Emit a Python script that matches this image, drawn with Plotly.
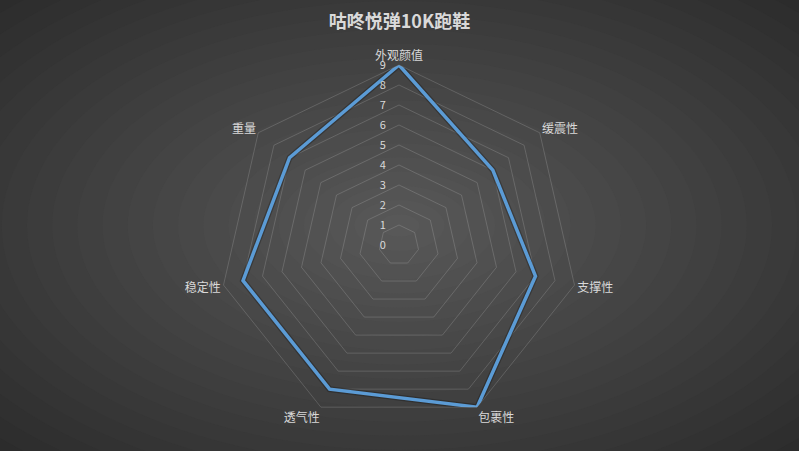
import plotly.graph_objects as go

# ── Chart data
title_text = "咕咚悦弹10K跑鞋"
categories = ["外观颜值", "缓震性", "支撑性", "包裹性", "透气性", "稳定性", "重量"]
scores = [9, 6, 7, 9, 8, 8, 7]
radial_ticks = [0, 1, 2, 3, 4, 5, 6, 7, 8, 9]

W, H = 799, 451
FONT = "Noto Sans CJK SC"
TEXT = "#D9D9D9"
GRID = "rgba(217,217,217,0.2)"

# close the polygon
theta = categories + categories[:1]
r = scores + scores[:1]

fig = go.Figure()

# soft shadow under the line
fig.add_trace(go.Scatterpolar(
    r=r, theta=theta, mode="lines",
    line=dict(color="rgba(0,0,0,0.25)", width=6),
    hoverinfo="skip", showlegend=False
))

fig.add_trace(go.Scatterpolar(
    r=r, theta=theta, mode="lines",
    line=dict(color="#5B9BD5", width=3.5),
    name="咕咚悦弹10K", showlegend=False
))

# ── Radial background gradient (dark edges, lighter centre)
shapes = []
steps = 24
for i in range(steps):
    t = i / (steps - 1)
    scale = 1.45 * (1 - t) + 0.05
    v = int(0x2b + (0x58 - 0x2b) * t)
    shapes.append(dict(
        type="circle", xref="paper", yref="paper", layer="below",
        x0=0.5 - scale / 2, x1=0.5 + scale / 2,
        y0=0.5 - scale / 2, y1=0.5 + scale / 2,
        fillcolor=f"rgb({v},{v},{v})", line=dict(width=0)
    ))

# pad the radial labels so they sit left of the axis like the original
tick_text = [f"{v}\u2002\u2002" for v in radial_ticks]

cx, cy, rad = 399, 245, 180
fig.update_layout(
    width=W, height=H,
    margin=dict(l=0, r=0, t=0, b=0),
    paper_bgcolor="#2b2b2b",
    font=dict(family=FONT, color=TEXT, size=12),
    shapes=shapes,
    title=dict(
        text=f"<b>{title_text}</b>",
        font=dict(family=FONT, size=18, color=TEXT),
        x=0.5, xanchor="center", y=1 - 22 / H, yanchor="middle"
    ),
    polar=dict(
        bgcolor="rgba(0,0,0,0)",
        gridshape="linear",
        domain=dict(
            x=[(cx - rad) / W, (cx + rad) / W],
            y=[1 - (cy + rad) / H, 1 - (cy - rad) / H]
        ),
        radialaxis=dict(
            range=[0, 9], tickvals=radial_ticks, ticktext=tick_text,
            angle=90, tickangle=90, side="counterclockwise",
            showline=False, ticks="", showgrid=True,
            gridcolor=GRID, gridwidth=1,
            tickfont=dict(family=FONT, size=11, color=TEXT)
        ),
        angularaxis=dict(
            rotation=90, direction="clockwise",
            showgrid=False, showline=True, linecolor=GRID, linewidth=1,
            ticks="", tickfont=dict(family=FONT, size=12, color=TEXT)
        )
    )
)

fig.write_html(
    "out.html",
    config={"displayModeBar": False},
    post_script="document.body.style.margin='0';"
)
